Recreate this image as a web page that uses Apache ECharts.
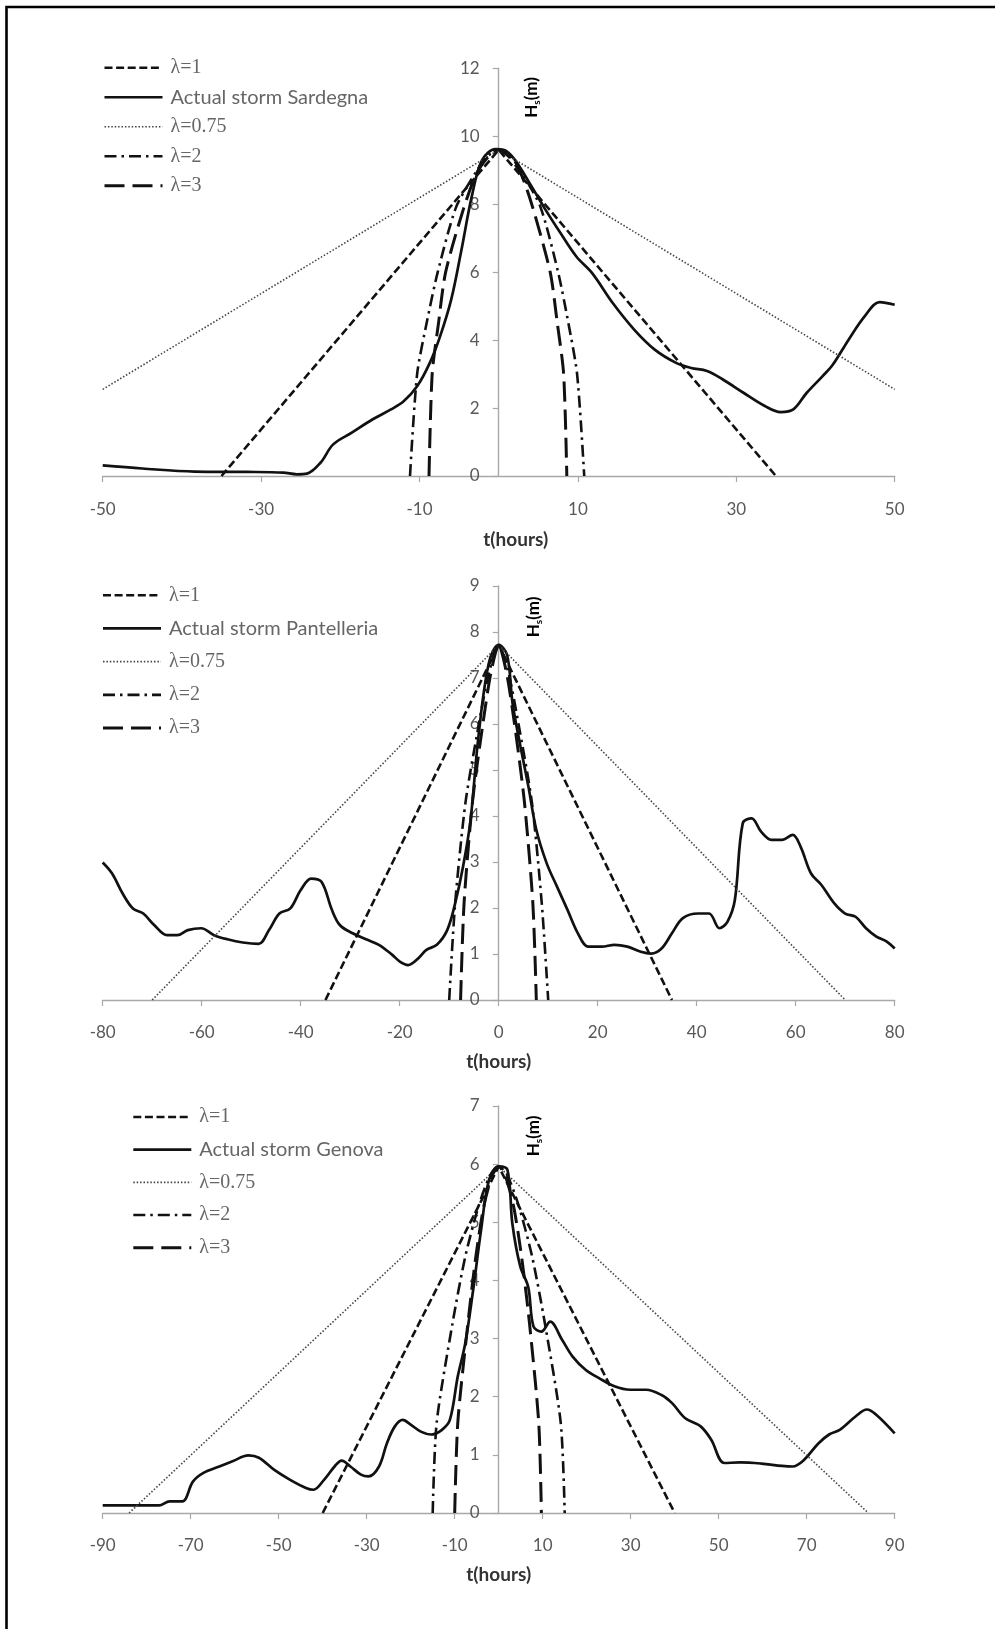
<!DOCTYPE html>
<html><head><meta charset="utf-8">
<script src="https://cdn.jsdelivr.net/npm/echarts@6/dist/echarts.min.js"></script>
<style>html,body{margin:0;padding:0;background:#fff;}#c{width:995px;height:1629px;}</style>
</head><body><div id="c"></div>
<script>
// ---------------- DATA ----------------
const stormNames = ['Actual storm Sardegna', 'Actual storm Pantelleria', 'Actual storm Genova'];
const lambdaNames = ['λ=1', 'λ=0.75', 'λ=2', 'λ=3'];
const xRanges = [[-50, 50], [-80, 80], [-90, 90]];
const xTickLabels = [
  [-50, -30, -10, 10, 30, 50],
  [-80, -60, -40, -20, 0, 20, 40, 60, 80],
  [-90, -70, -50, -30, -10, 10, 30, 50, 70, 90]
];
const yMaxes = [12, 9, 7];
const ySteps = [2, 1, 1];

// Chart 1 – Sardegna [t (hours), Hs (m)]
const sardegnaActual = [[-50,0.31],[-45,0.22],[-38.4,0.13],[-31.8,0.12],[-27.2,0.1],[-25.5,0.05],[-24.2,0.07],[-22.5,0.39],[-20.9,0.93],[-18.6,1.27],[-15.9,1.67],[-13.6,1.96],[-12,2.2],[-10.3,2.64],[-8.7,3.33],[-7.4,4.11],[-6,5.19],[-4.7,6.66],[-3.4,8.23],[-2.1,9.3],[-0.4,9.62],[0.6,9.6],[1.9,9.35],[3.9,8.62],[5.9,7.84],[7.8,7.15],[9.8,6.46],[11.8,5.97],[14.4,5.09],[17.1,4.31],[19.7,3.72],[22.4,3.33],[24.3,3.18],[26.3,3.09],[28.3,2.84],[30.9,2.45],[33.6,2.06],[35.6,1.88],[37.2,1.96],[38.9,2.45],[40.9,2.94],[42.2,3.28],[44.2,4.02],[46.2,4.7],[48.1,5.12],[50,5.04]];
const sardegnaL1 = [[-35,0],[0,9.6],[35,0]];
const sardegnaL075 = [[-50,2.55],[0,9.6],[50,2.55]];
const sardegnaL2 = [[-11.2,0],[-10.3,3],[-9.1,4.5],[-7.7,6],[-5.4,7.9],[-3,8.9],[-1.5,9.4],[0,9.6],[1.5,9.4],[3,8.9],[5.3,7.9],[7.5,6],[8.8,4.5],[9.9,3],[10.8,0]];
const sardegnaL3 = [[-8.8,0],[-8.4,3],[-7.6,4.5],[-6.7,6],[-4.4,7.9],[-2.8,8.9],[-1.3,9.4],[0,9.6],[1.3,9.4],[2.8,8.9],[4.3,7.9],[6.5,6],[7.4,4.5],[8.2,3],[8.6,0]];

// Chart 2 – Pantelleria
const pantelleriaActual = [[-80,2.99],[-78.1,2.75],[-76,2.32],[-73.9,1.99],[-71.8,1.88],[-69.6,1.63],[-67,1.41],[-64.9,1.41],[-62.8,1.52],[-60.1,1.56],[-57.5,1.41],[-54.8,1.32],[-51.7,1.25],[-48.5,1.22],[-46.4,1.52],[-44.3,1.88],[-42.1,1.99],[-40,2.39],[-37.9,2.64],[-35.8,2.57],[-33.7,1.96],[-32.1,1.63],[-29.5,1.45],[-26.8,1.32],[-24.2,1.2],[-21.5,0.98],[-19.9,0.83],[-18.3,0.76],[-16.2,0.91],[-14.6,1.09],[-12.5,1.2],[-10.4,1.52],[-8.8,2.1],[-7.2,2.9],[-5.7,3.9],[-4.1,5.72],[-2,7.32],[0,7.72],[1.7,7.5],[2.8,6.45],[4.4,5.51],[6,4.64],[7.6,3.7],[9.7,2.97],[11.8,2.46],[13.9,1.96],[16,1.45],[18.1,1.16],[20.8,1.16],[23.4,1.2],[26,1.16],[28.7,1.05],[30.8,1.01],[32.9,1.12],[35,1.45],[37.2,1.78],[40.3,1.88],[42.5,1.88],[44.6,1.56],[46.2,1.7],[47.7,2.17],[49.3,3.84],[51.1,3.95],[53,3.66],[55.1,3.48],[57.2,3.48],[59.4,3.59],[61,3.33],[63.1,2.75],[65.2,2.5],[67.8,2.1],[70,1.88],[72.1,1.81],[74.2,1.56],[76.3,1.38],[78.4,1.27],[80,1.12]];
const pantelleriaL1 = [[-35,0],[0,7.72],[35,0]];
const pantelleriaL075 = [[-70,0],[0,7.72],[70,0]];
const pantelleriaL2 = [[-10,0],[-8.8,2.1],[-6.7,4.3],[-4,6],[-2,7.1],[0,7.72],[2,7.1],[4,6],[6.7,4.3],[8.7,2.1],[10,0]];
const pantelleriaL3 = [[-7.7,0],[-7,2.1],[-5.3,4.3],[-3.2,6],[-1.6,7.1],[0,7.72],[1.6,7.1],[3.2,6],[5.2,4.3],[6.9,2.1],[7.6,0]];

// Chart 3 – Genova
const genovaActual = [[-90,0.13],[-83.1,0.13],[-77.2,0.13],[-74.8,0.2],[-71.9,0.2],[-69.5,0.54],[-67.1,0.69],[-63.5,0.8],[-60.5,0.89],[-56.9,0.99],[-54.5,0.95],[-51,0.74],[-47.4,0.57],[-43.8,0.43],[-42.1,0.4],[-39.7,0.57],[-37.3,0.8],[-35.7,0.9],[-33.7,0.8],[-31.3,0.66],[-29.6,0.63],[-27.2,0.8],[-25.4,1.2],[-23.6,1.49],[-21.8,1.6],[-20,1.52],[-17.7,1.4],[-15.3,1.35],[-12.9,1.43],[-11.1,1.6],[-9.3,2.35],[-7.6,2.92],[-5.8,3.84],[-4,4.87],[-2.2,5.73],[0,5.96],[2,5.9],[3.1,4.98],[4.9,4.24],[6.7,3.89],[7.9,3.21],[9.7,3.12],[11.7,3.29],[14.4,2.98],[16.8,2.69],[19.8,2.46],[22.8,2.32],[26.3,2.18],[29.9,2.12],[33.5,2.12],[37,2.03],[39.4,1.89],[42.4,1.63],[45.9,1.49],[48.3,1.26],[51.3,0.86],[54.9,0.87],[59.7,0.85],[64.4,0.81],[66.8,0.8],[69.2,0.9],[72.7,1.2],[75.1,1.35],[77.5,1.43],[81.1,1.66],[83.7,1.78],[85.8,1.69],[90,1.37]];
const genovaL1 = [[-40,0],[0,5.96],[40,0]];
const genovaL075 = [[-84,0],[0,5.96],[84,0]];
const genovaL2 = [[-15,0],[-14.1,1.55],[-10.5,3.26],[-7.6,4.41],[-4.6,5.27],[-2,5.8],[0,5.96],[2,5.8],[4.6,5.27],[7.6,4.41],[10.5,3.26],[14.1,1.55],[15,0]];
const genovaL3 = [[-10,0],[-9.3,1.55],[-7,3.26],[-5.2,4.41],[-3.4,5.27],[-1.5,5.8],[0,5.96],[1.5,5.8],[3.4,5.27],[5.2,4.41],[7,3.26],[9.1,1.55],[9.7,0]];

const panels = [
  {actual: sardegnaActual, l1: sardegnaL1, l075: sardegnaL075, l2: sardegnaL2, l3: sardegnaL3},
  {actual: pantelleriaActual, l1: pantelleriaL1, l075: pantelleriaL075, l2: pantelleriaL2, l3: pantelleriaL3},
  {actual: genovaActual, l1: genovaL1, l075: genovaL075, l2: genovaL2, l3: genovaL3}
];

// ---------------- LAYOUT / STYLE ----------------
const grids = [
  {left: 102.7, top: 68.3, width: 792, height: 407.7},
  {left: 102.7, top: 586, width: 792, height: 414},
  {left: 102.7, top: 1106, width: 792, height: 407}
];
const LEG_ITEM_H = 19.5;   // measured rendered legend item height
const legendPos = [
  {left: 103, center: 67.5, spacing: 29},
  {left: 101.5, center: 595, spacing: 32.7},
  {left: 131.8, center: 1116.7, spacing: 32.2}
];
const xNameGap = [54, 52, 52];
const xNamePad = [[0,0,0,34],[0,0,0,0],[0,0,0,0]];
const xLabelMargin = [25.5, 24, 24.5];

const ink = '#111';
const lineStyles = {
  'λ=1':   {type: [8, 3.6], width: 2.6, color: ink},
  'actual':{type: 'solid', width: 2.7, color: ink},
  'λ=0.75':{type: [1.5, 1.9], width: 1.6, color: '#444'},
  'λ=2':   {type: [12, 5, 2.5, 5], width: 2.6, color: ink},
  'λ=3':   {type: [20, 8], width: 3, color: ink}
};

const FONT = 'Lato';
const axisGrey = '#a8a8a8';
const labelGrey = '#595959';

const option = {
  backgroundColor: '#fff',
  animation: false,
  grid: grids.map(g => Object.assign({containLabel: false}, g)),
  xAxis: [], yAxis: [], series: [], legend: [], graphic: []
};

panels.forEach((p, i) => {
  const zeroOffset = -(0 - xRanges[i][0]) / (xRanges[i][1] - xRanges[i][0]) * grids[i].width;
  option.xAxis.push({
    type: 'value', gridIndex: i, min: xRanges[i][0], max: xRanges[i][1],
    name: 't(hours)', nameLocation: 'middle', nameGap: xNameGap[i],
    nameTextStyle: {fontFamily: FONT, fontWeight: 'bold', fontSize: 19, color: '#333', padding: xNamePad[i]},
    axisLine: {show: true, onZero: false, lineStyle: {color: axisGrey, width: 1.4}},
    axisTick: {show: true, inside: false, length: 6, customValues: xTickLabels[i], lineStyle: {color: axisGrey, width: 1.2}},
    axisLabel: {customValues: xTickLabels[i], margin: xLabelMargin[i], fontFamily: FONT, fontSize: 17, color: labelGrey},
    splitLine: {show: false}
  });
  option.yAxis.push({
    type: 'value', gridIndex: i, min: 0, max: yMaxes[i], interval: ySteps[i],
    position: 'left', offset: zeroOffset,
    axisLine: {show: true, onZero: false, lineStyle: {color: axisGrey, width: 1.4}},
    axisTick: {show: true, inside: false, length: 6, lineStyle: {color: axisGrey, width: 1.2}},
    axisLabel: {margin: 19, fontFamily: FONT, fontSize: 17, color: labelGrey},
    splitLine: {show: false}
  });
  const order = [
    {name: 'λ=1', data: p.l1, st: lineStyles['λ=1'], smooth: false},
    {name: stormNames[i], data: p.actual, st: lineStyles.actual, smooth: 0.35},
    {name: 'λ=0.75', data: p.l075, st: lineStyles['λ=0.75'], smooth: false},
    {name: 'λ=2', data: p.l2, st: lineStyles['λ=2'], smooth: 0.25},
    {name: 'λ=3', data: p.l3, st: lineStyles['λ=3'], smooth: 0.25}
  ];
  order.forEach(o => {
    option.series.push({
      type: 'line', name: o.name, xAxisIndex: i, yAxisIndex: i,
      data: o.data, symbol: 'none', showSymbol: false, smooth: o.smooth, clip: true,
      lineStyle: {type: o.st.type, width: o.st.width, color: o.st.color},
      itemStyle: {color: o.st.color}, z: 3
    });
  });
  option.legend.push({
    orient: 'vertical', padding: 0,
    left: legendPos[i].left, top: legendPos[i].center - LEG_ITEM_H / 2,
    itemGap: legendPos[i].spacing - LEG_ITEM_H, itemWidth: 58, itemHeight: 24, selectedMode: false,
    data: order.map(o => ({
      name: o.name,
      itemStyle: {opacity: 0},
      lineStyle: {type: o.st.type, width: o.st.width, color: o.st.color, opacity: 1}
    })),
    formatter: n => n.charAt(0) === 'λ' ? '{s|' + n + '}' : '{c|' + n + '}',
    textStyle: {
      fontSize: 14, lineHeight: 16, padding: [0, 0, 0, 3],
      rich: {
        s: {fontFamily: 'Liberation Serif', fontSize: 20, color: '#666', lineHeight: 16},
        c: {fontFamily: FONT, fontSize: 20, color: '#666', lineHeight: 16}
      }
    }
  });
});

// y-axis names (rotated) and frame
const yNamePos = [[532, 97.5], [534, 617], [534, 1136]];
yNamePos.forEach(pos => {
  option.graphic.push({
    type: 'text', x: pos[0], y: pos[1], rotation: Math.PI / 2, z: 10,
    style: {
      text: '{h|H}{s|s}{m|(m)}', align: 'center', verticalAlign: 'middle',
      rich: {
        h: {fontFamily: FONT, fontWeight: 'bold', fontSize: 17, color: '#333', lineHeight: 20},
        s: {fontFamily: FONT, fontWeight: 'bold', fontSize: 10, color: '#333', lineHeight: 10, verticalAlign: 'bottom'},
        m: {fontFamily: FONT, fontWeight: 'bold', fontSize: 17, color: '#333', lineHeight: 20}
      }
    }
  });
});
option.graphic.push({type: 'polyline', z: 20, shape: {points: [[6.5, 1629], [6.5, 7], [995, 7]]}, style: {stroke: '#000', lineWidth: 2.6, fill: null}});

const chart = echarts.init(document.getElementById('c'), null, {renderer: 'canvas'});
chart.setOption(option);
</script></body></html>
